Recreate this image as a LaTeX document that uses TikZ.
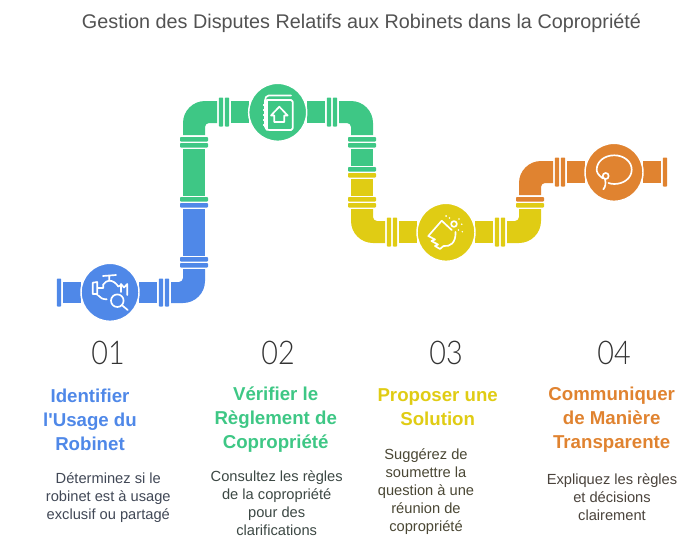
\documentclass[tikz,border=0pt]{standalone}
\usepackage{fontspec}
\setmainfont{Liberation Sans}
\newfontfamily\aposf{Liberation Sans}
\newfontfamily\numfont{Lato Light}
\definecolor{cblue}{HTML}{4F88E8}
\definecolor{cgreen}{HTML}{3EC785}
\definecolor{cyellow}{HTML}{E0CC14}
\definecolor{corange}{HTML}{E08330}
\definecolor{bblue}{HTML}{414856}
\definecolor{bgreen}{HTML}{3C4844}
\definecolor{byellow}{HTML}{4A4734}
\definecolor{borange}{HTML}{4A433C}
\newcommand{\vfl}[4]{\fill[#1,rounded corners=0.6pt] (#2-.2,#3-3.5) rectangle (#2+4.2,#4+3.5);}
\newcommand{\hfl}[3]{\fill[#1,rounded corners=0.6pt] (#2,#3-.2) rectangle (#2+28,#3+4.2);}
\newcommand{\seg}[5]{\fill[#1] (#2,#3) rectangle (#4,#5);}
\tikzset{
  hub/.style={circle,minimum size=43.5pt,inner sep=0pt,draw=white,line width=1.1pt},
  ico/.style={draw=white,line width=1.25pt,line cap=round,line join=round,fill=none},
  num/.style={font=\numfont\fontsize{24.5}{28}\selectfont,text=black!80},
  head/.style={font=\bfseries\fontsize{14}{18}\selectfont,align=center},
  body/.style={font=\fontsize{11}{13.5}\selectfont,align=center},
}
\begin{document}
\begin{tikzpicture}[x=0.75pt,y=-0.75pt]
\useasboundingbox (0,0) rectangle (697,543);
\node[font=\fontsize{14.85}{17}\selectfont,text=black!68] (title) at (361.5,23.5) {Gestion des Disputes Relatifs aux Robinets dans la Copropriété};
% blue
\vfl{cblue}{57}{282}{303}
\seg{cblue}{63}{282}{81}{303}
\seg{cblue}{139}{282}{157}{303}
\vfl{cblue}{159}{282}{303}
\vfl{cblue}{165}{282}{303}
\fill[cblue] (171,303) [rounded corners=16.5pt] -- (205,303) [sharp corners] -- (205,269) -- (183,269) [rounded corners=3pt] -- (183,282) [sharp corners] -- (171,282) -- cycle;
\hfl{cblue}{180}{263.3}
\hfl{cblue}{180}{257.3}
\seg{cblue}{183}{209.3}{205}{255.7}
\hfl{cblue}{180}{203.3}
% green
\hfl{cgreen}{180}{197.3}
\seg{cgreen}{183}{149.3}{205}{195.7}
\hfl{cgreen}{180}{143.3}
\hfl{cgreen}{180}{137.3}
\fill[cgreen] (217,101) [rounded corners=16.5pt] -- (183,101) [sharp corners] -- (183,135) -- (205,135) [rounded corners=3pt] -- (205,123) [sharp corners] -- (217,123) -- cycle;
\vfl{cgreen}{219}{101}{123}
\vfl{cgreen}{225}{101}{123}
\seg{cgreen}{231}{101}{249}{123}
\seg{cgreen}{307}{101}{325}{123}
\vfl{cgreen}{327}{101}{123}
\vfl{cgreen}{333}{101}{123}
\fill[cgreen] (339,101) [rounded corners=16.5pt] -- (373,101) [sharp corners] -- (373,135) -- (351,135) [rounded corners=3pt] -- (351,123) [sharp corners] -- (339,123) -- cycle;
\hfl{cgreen}{348}{137.3}
\hfl{cgreen}{348}{143.3}
\seg{cgreen}{351}{149.3}{373}{165.7}
\hfl{cgreen}{348}{167.3}
% yellow
\hfl{cyellow}{348}{173.3}
\seg{cyellow}{351}{179.3}{373}{195.7}
\hfl{cyellow}{348}{197.3}
\hfl{cyellow}{348}{203.3}
\fill[cyellow] (351,209) [rounded corners=16.5pt] -- (351,243) [sharp corners] -- (385,243) -- (385,221) [rounded corners=3pt] -- (373,221) [sharp corners] -- (373,209) -- cycle;
\vfl{cyellow}{387}{221}{243}
\vfl{cyellow}{393}{221}{243}
\seg{cyellow}{399}{221}{417}{243}
\seg{cyellow}{475}{221}{493}{243}
\vfl{cyellow}{495}{221}{243}
\vfl{cyellow}{501}{221}{243}
\fill[cyellow] (507,243) [rounded corners=16.5pt] -- (541,243) [sharp corners] -- (541,209) -- (519,209) [rounded corners=3pt] -- (519,221) [sharp corners] -- (507,221) -- cycle;
\hfl{cyellow}{516}{203.3}
% orange
\hfl{corange}{516}{197.3}
\fill[corange] (553,161) [rounded corners=16.5pt] -- (519,161) [sharp corners] -- (519,195) -- (541,195) [rounded corners=3pt] -- (541,183) [sharp corners] -- (553,183) -- cycle;
\vfl{corange}{555}{161}{183}
\vfl{corange}{561}{161}{183}
\seg{corange}{567}{161}{585}{183}
\seg{corange}{643}{161}{661}{183}
\vfl{corange}{663}{161}{183}
% hubs
\node[hub,fill=cblue] (h1) at (110,292.3) {};
\node[hub,fill=cgreen] (h2) at (277.7,112.3) {};
\node[hub,fill=cyellow] (h3) at (446,232.3) {};
\node[hub,fill=corange] (h4) at (614,172.3) {};
% icon 1: tap and magnifier
\draw[ico] (103,276) -- (116,275) (109.3,276) -- (109.3,280.7);
\draw[ico] (103.3,284.5) .. controls (105,282) and (107,280.7) .. (109.3,280.7) .. controls (113,280.7) and (116,283) .. (118.3,286.5);
\draw[ico] (92.7,282.7) -- (92.7,294) (97.3,282) -- (97.3,295) (92.7,282.7) -- (97.3,282) (92.7,294) -- (97.3,294) (97.3,288) -- (103.3,288) -- (103.3,284.5);
\draw[ico] (98.3,295.5) .. controls (100,298) and (103,299.3) .. (106.7,299.3);
\draw[ico] (118.3,286.5) -- (121,285) (121,284) -- (121,292) (121,284) -- (124,287.5) -- (127.3,284) -- (127.3,295);
\draw[ico] (117.3,300.7) circle[radius=6.3];
\draw[ico] (122,305.2) -- (127.7,310);
% icon 2: book with house
\draw[ico,rounded corners=1.2pt] (267.3,100) -- (292.7,100) -- (292.7,130) -- (267.3,130) -- (265,128) -- (265,99) -- (267,95.5) -- (291,95.5);
\draw[ico] (267.3,100) -- (267.3,130);
\foreach \yy in {105,110,115,120,125} \draw[ico,line width=.8pt] (263.5,\yy) -- (267.3,\yy);
\draw[ico] (271,115.5) -- (279.3,106.7) -- (287.7,115.5) -- (284.3,115.5) -- (284.3,122) -- (274.3,122) -- (274.3,115.5) -- cycle;
% icon 3: glove
\draw[ico] (454,224) circle[radius=2.9];
\fill[white] (446,216) circle[radius=1] (449.5,218) circle[radius=.8] (459,219) circle[radius=.8] (461.7,224.3) circle[radius=.9] (458.5,230) circle[radius=.8] (462.3,231.7) circle[radius=.8];
\draw[ico] (441.7,220.7) -- (428.3,236) -- (435,239.5) -- (431.5,241) -- (438,244.5) -- (435,246) -- (440,249) -- (443.5,246) .. controls (450,247) and (456,243) .. (455.5,232);
\draw[ico] (441.7,220.7) -- (451.7,230);
% icon 4: speech
\draw[ico] (603,178.5) .. controls (598,175) and (596.7,172) .. (596.7,169.7) .. controls (596.7,161.5) and (604.5,155.3) .. (614.2,155.3) .. controls (623.9,155.3) and (631.7,161.5) .. (631.7,169.7) .. controls (631.7,178) and (623.9,184) .. (614.2,184) .. controls (612,184) and (610,183.5) .. (608.5,183);
\draw[ico] (605.7,176) circle[radius=3];
\draw[ico] (605,179.3) .. controls (606,183) and (605.5,187) .. (603.3,189.3);
% numbers
\node[num] (n1) at (108,352.5) {\scalebox{.88}[1]{01}};
\node[num] (n2) at (278,352.5) {\scalebox{.88}[1]{02}};
\node[num] (n3) at (446,352.5) {\scalebox{.88}[1]{03}};
\node[num] (n4) at (614,352.5) {\scalebox{.88}[1]{04}};
% headings
\node[head,text=cblue] (t1) at (90,419.5) {Identifier\\l{\aposf\bfseries '}Usage du\\Robinet};
\node[head,text=cgreen] (t2) at (275.7,419.5) {Vérifier le\\Règlement de\\Copropriété};
\node[head,text=cyellow] (t3) at (437.7,407.5) {Proposer une\\Solution};
\node[head,text=corange] (t4) at (611.7,419.5) {Communiquer\\de Manière\\Transparente};
% bodies
\node[body,text=bblue] (b1) at (108.3,497.5) {Déterminez si le\\robinet est à usage\\exclusif ou partagé};
\node[body,text=bgreen] (b2) at (276.7,503.5) {Consultez les règles\\de la copropriété\\pour des\\clarifications};
\node[body,text=byellow] (b3) at (426,491.5) {Suggérez de\\soumettre la\\question à une\\réunion de\\copropriété};
\node[body,text=borange] (b4) at (612,497.5) {Expliquez les règles\\et décisions\\clairement};
\end{tikzpicture}
\end{document}
